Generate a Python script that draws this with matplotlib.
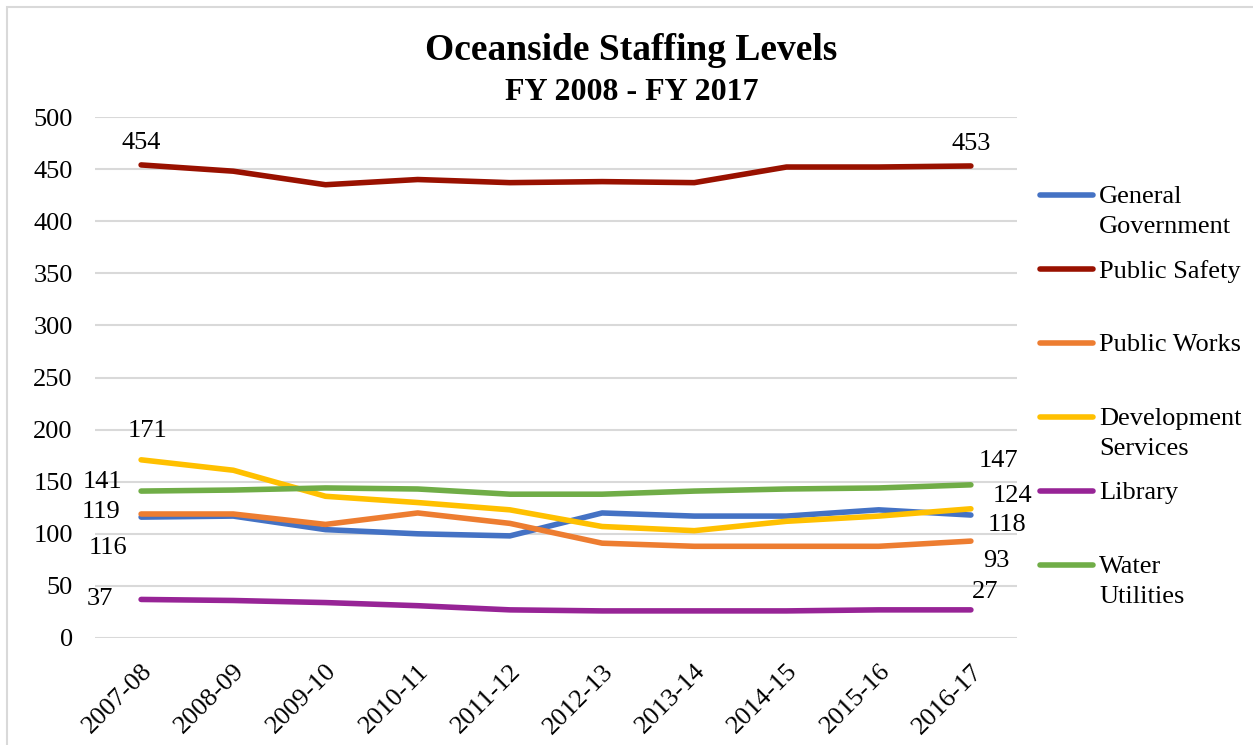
import matplotlib.pyplot as plt
from matplotlib.lines import Line2D
from matplotlib.patches import Rectangle

plt.rcParams['font.family'] = ['Liberation Serif', 'DejaVu Serif']

years = ['2007-08', '2008-09', '2009-10', '2010-11', '2011-12',
         '2012-13', '2013-14', '2014-15', '2015-16', '2016-17']

general_government = [116, 117, 104, 100, 98, 120, 117, 117, 123, 118]
public_safety = [454, 448, 435, 440, 437, 438, 437, 452, 452, 453]
public_works = [119, 119, 109, 120, 110, 91, 88, 88, 88, 93]
development_services = [171, 161, 136, 130, 123, 107, 103, 112, 117, 124]
library = [37, 36, 34, 31, 27, 26, 26, 26, 27, 27]
water_utilities = [141, 142, 144, 143, 138, 138, 141, 143, 144, 147]

series = [
    ('General\nGovernment', general_government, '#4472C4'),
    ('Public Safety', public_safety, '#991100'),
    ('Public Works', public_works, '#ED7D31'),
    ('Development\nServices', development_services, '#FFC000'),
    ('Library', library, '#972496'),
    ('Water\nUtilities', water_utilities, '#70AD47'),
]

# offsets (points) for the first/last value labels
label_offsets = {
    'General\nGovernment': ((-24, -22), (26, -7)),
    'Public Safety': ((0, 16), (0, 16)),
    'Public Works': ((-29, 1.5), (18, -14)),
    'Development\nServices': ((5, 21), (30, 9)),
    'Library': ((-30, 0.5), (10, 13)),
    'Water\nUtilities': ((-28, 6.5), (20, 17)),
}

FS = 19

fig = plt.figure(figsize=(12.53, 7.45), dpi=100)
fig.patches.append(Rectangle((7 / 1253, -0.01), 1.1, 1 - 7 / 745 + 0.01,
                             transform=fig.transFigure, fill=False,
                             edgecolor='#D9D9D9', linewidth=1.5))

ax = fig.add_axes([95 / 1253, 1 - 638 / 745, (1017 - 95) / 1253, (638 - 117) / 745])
x = list(range(len(years)))

for name, vals, color in series:
    ax.plot(x, vals, color=color, linewidth=4, solid_capstyle='round',
            solid_joinstyle='round', zorder=3)
    (dx0, dy0), (dx1, dy1) = label_offsets[name]
    ax.annotate(str(vals[0]), (x[0], vals[0]), xytext=(dx0, dy0),
                textcoords='offset points', ha='center', va='center', fontsize=FS)
    ax.annotate(str(vals[-1]), (x[-1], vals[-1]), xytext=(dx1, dy1),
                textcoords='offset points', ha='center', va='center', fontsize=FS)

ax.set_xlim(-0.5, len(years) - 0.5)
ax.set_ylim(0, 500)
ax.set_yticks(range(0, 501, 50))
ax.set_xticks(x)
ax.set_xticklabels(years, rotation=45, ha='right', rotation_mode='anchor')
ax.tick_params(axis='both', length=0, labelsize=FS)
ax.tick_params(axis='y', pad=16)
ax.tick_params(axis='x', pad=16)
ax.grid(axis='y', color='#D9D9D9', linewidth=1.5)
ax.set_axisbelow(True)
for side in ['top', 'right', 'left', 'bottom']:
    ax.spines[side].set_visible(False)

fig.text(0.504, 1 - 50 / 745, 'Oceanside Staffing Levels', ha='center', va='center',
         fontsize=27, fontweight='bold')
fig.text(0.504, 1 - 92 / 745, 'FY 2008 - FY 2017', ha='center', va='center',
         fontsize=23, fontweight='bold')

# legend drawn Excel-style, one slot per series
for i, (name, vals, color) in enumerate(series):
    y = 1 - (195 + 74 * i) / 745
    fig.add_artist(Line2D([1040 / 1253, 1093 / 1253], [y, y], transform=fig.transFigure,
                          color=color, linewidth=4, solid_capstyle='round'))
    fig.text(1099 / 1253, y + 9 / 745, name, ha='left', va='top', fontsize=FS,
             linespacing=1.45)

fig.savefig('out.png', dpi=100)
